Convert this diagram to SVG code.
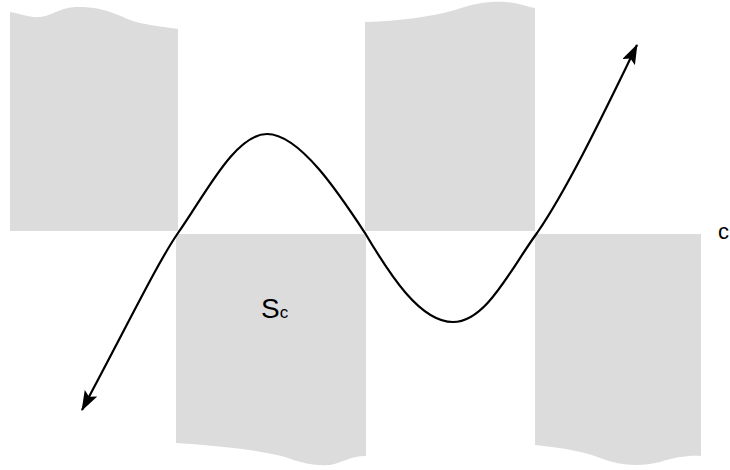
<svg xmlns="http://www.w3.org/2000/svg" width="730" height="470" viewBox="0 0 730 470">
<style>
.reg{fill:#dcdcdc;stroke:none}
.curve{fill:none;stroke:#000;stroke-width:2.2}
.lbl{font-family:"Liberation Sans",Arial,sans-serif;fill:#000}
</style>
<defs>
<marker id="ah" viewBox="0 0 20 14" refX="19" refY="7" markerWidth="20" markerHeight="14" markerUnits="userSpaceOnUse" orient="auto-start-reverse">
<path d="M0,0 L20,7 L0,14 L4,7 Z" fill="#000"/>
</marker>
</defs>
<g id="region-top-left"><path class="reg" d="M10,12 C22,14 30,18 40,17 C52,16 60,7 78,7 C110,7 120,18 140,23 C155,26 165,27 178,29 L178,231 L10,231 Z"/></g>
<g id="region-top-mid"><path class="reg" d="M365,22 C400,21 430,17 455,10 C475,3 490,1 505,2 C520,3 528,7 535,8 L535,231 L365,231 Z"/></g>
<g id="region-bottom-mid"><path class="reg" d="M176,234 L366,234 L366,456 C350,456 345,462 330,465 C310,466 300,462 285,457 C260,450 220,446 176,443 Z"/></g>
<g id="region-bottom-right"><path class="reg" d="M535,234 L701,234 L701,456 C690,455 675,457 660,462 C640,467 620,466 600,458 C585,452 565,448 535,445 Z"/></g>
<g id="connectors">
<path class="curve" marker-start="url(#ah)" marker-end="url(#ah)" d="M82,410 C130,320 158,262 178,233 C205,195 235,134 267,134 C300,134 340,195 365,233 C390,275 420,322 453,322 C486,322 510,270 537,233 C570,185 610,100 637,45"/>
</g>
<g id="label-sc"><text class="lbl" x="261" y="317.5" font-size="28">S<tspan font-size="17">c</tspan></text></g>
<g id="label-c"><text class="lbl" x="718" y="239" font-size="22">c</text></g>
</svg>
